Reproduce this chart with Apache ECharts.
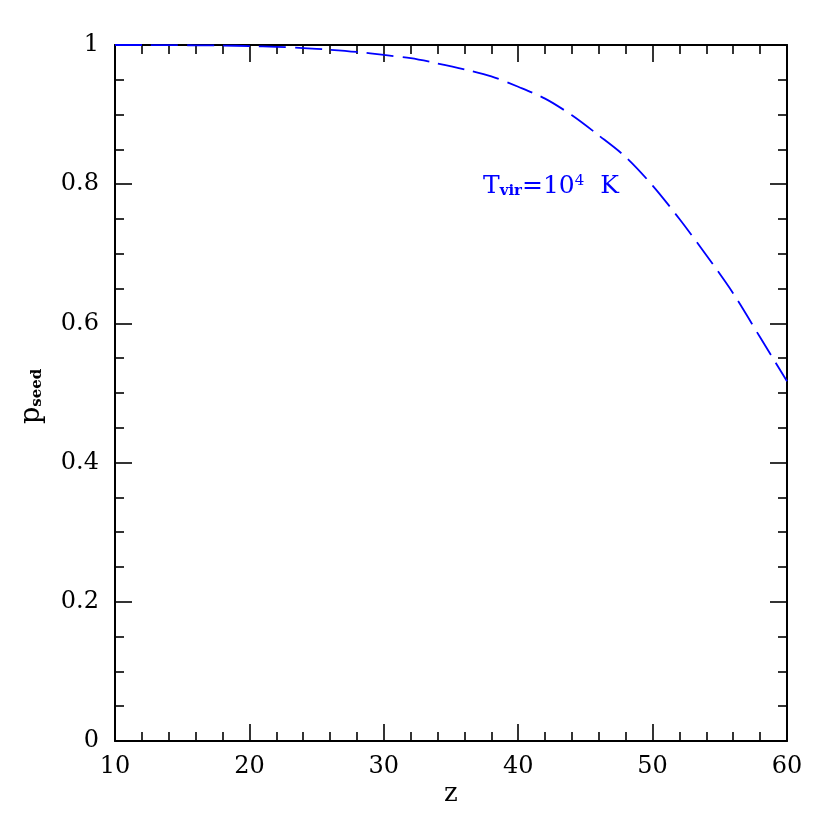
<!DOCTYPE html>
<html><head><meta charset="utf-8">
<script src="https://cdn.jsdelivr.net/npm/echarts@6/dist/echarts.min.js"></script>
<style>html,body{margin:0;padding:0;background:#fff}#c{width:830px;height:830px}</style>
</head><body><div id="c"></div>
<script>
var zValues = [10,12,14,16,18,20,22,24,26,28,30,32,34,36,38,40,42,44,46,48,50,52,54,56,58,60];
var pSeed   = [1.0,1.0,0.9998,0.9996,0.9992,0.9985,0.9974,0.9956,0.9932,0.9900,0.9857,0.981,0.9735,0.965,0.955,0.940,0.923,0.899,0.870,0.839,0.798,0.750,0.698,0.643,0.580,0.517];
var xTicks = [10,20,30,40,50,60];
var yTicks = [0,0.2,0.4,0.6,0.8,1];

var FONT = 'DejaVu Serif';
var chart = echarts.init(document.getElementById('c'));
function axisCommon(showLabel){
  return {
    axisLine:{show:true,onZero:false,lineStyle:{color:'#000',width:2}},
    axisTick:{show:true,inside:true,length:17,lineStyle:{color:'#000',width:1.6}},
    minorTick:{show:true,length:9,lineStyle:{color:'#000',width:1.6}},
    splitLine:{show:false},
    axisLabel:{show:showLabel,color:'#000',fontFamily:FONT,fontSize:24}
  };
}
var data = zValues.map(function(z,i){return [z,pSeed[i]];});
var xa1 = Object.assign(axisCommon(true),{type:'value',min:10,max:60,interval:10,position:'bottom'});
xa1.minorTick.splitNumber=5; xa1.axisLabel.margin=14;
var xa2 = Object.assign(axisCommon(false),{type:'value',min:10,max:60,interval:10,position:'top'});
xa2.minorTick.splitNumber=5;
var ya1 = Object.assign(axisCommon(true),{type:'value',min:0,max:1,interval:0.2,position:'left'});
ya1.minorTick.splitNumber=4; ya1.axisLabel.margin=16;
var ya2 = Object.assign(axisCommon(false),{type:'value',min:0,max:1,interval:0.2,position:'right'});
ya2.minorTick.splitNumber=4;

chart.setOption({
  animation:false,
  backgroundColor:'#fff',
  grid:{left:115,right:43,top:45,bottom:89},
  xAxis:[xa1,xa2],
  yAxis:[ya1,ya2],
  series:[{
    type:'line',data:data,xAxisIndex:0,yAxisIndex:0,showSymbol:false,smooth:0.3,
    lineStyle:{color:'#0000ff',width:1.8,type:[27,9]}
  }],
  graphic:[
    {type:'text',left:444,top:781,style:{text:'z',font:'26px "'+FONT+'"',fill:'#000'}},
    {type:'text',x:18,y:424,rotation:Math.PI/2,
     style:{text:'p{s|seed}',fill:'#000',
       rich:{s:{fontSize:15,fontFamily:FONT,fontWeight:'bold',verticalAlign:'bottom',fill:'#000'}},
       font:'27px "'+FONT+'"'}},
    {type:'text',left:483,top:174,
     style:{text:'T{s|vir}=10{p|4}  K',fill:'#0000ff',
       font:'25px "'+FONT+'"',
       rich:{s:{fontSize:15,fontFamily:FONT,fontWeight:'bold',verticalAlign:'bottom',fill:'#0000ff'},
             p:{fontSize:15,fontFamily:FONT,verticalAlign:'top',fill:'#0000ff'}}}}
  ]
});
</script></body></html>
